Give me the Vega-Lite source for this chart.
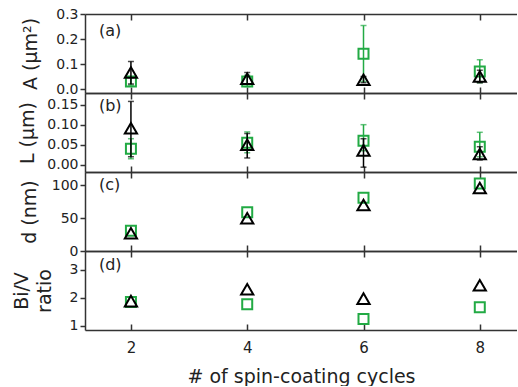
{
  "$schema": "https://vega.github.io/schema/vega-lite/v6.json",
  "padding": {"left": 12, "top": 7, "right": 0, "bottom": 0},
  "spacing": 0,
  "bounds": "flush",
  "config": {
    "font": "DejaVu Sans",
    "view": {"stroke": null},
    "text": {"font": "DejaVu Sans"},
    "axis": {"grid": false, "labelFontSize": 14, "titleFontSize": 19, "titleFontWeight": "normal", "domainColor": "#333", "tickColor": "#333", "labelColor": "#222", "titleColor": "#222", "domainWidth": 1.5, "tickWidth": 1.5}
  },
  "datasets": {
    "pts": [
      {"panel": "a", "cycles": 2, "series": "sq", "value": 0.03, "lo": 0.015, "hi": 0.045},
      {"panel": "a", "cycles": 4, "series": "sq", "value": 0.03, "lo": 0.01, "hi": 0.055},
      {"panel": "a", "cycles": 6, "series": "sq", "value": 0.141, "lo": 0.03, "hi": 0.254},
      {"panel": "a", "cycles": 8, "series": "sq", "value": 0.07, "lo": 0.025, "hi": 0.117},
      {"panel": "a", "cycles": 2, "series": "tri", "value": 0.066, "lo": 0.02, "hi": 0.11},
      {"panel": "a", "cycles": 4, "series": "tri", "value": 0.041, "lo": 0.02, "hi": 0.066},
      {"panel": "a", "cycles": 6, "series": "tri", "value": 0.037, "lo": 0.025, "hi": 0.05},
      {"panel": "a", "cycles": 8, "series": "tri", "value": 0.05, "lo": 0.025, "hi": 0.075},
      {"panel": "b", "cycles": 2, "series": "sq", "value": 0.04, "lo": 0.015, "hi": 0.065},
      {"panel": "b", "cycles": 4, "series": "sq", "value": 0.055, "lo": 0.03, "hi": 0.082},
      {"panel": "b", "cycles": 6, "series": "sq", "value": 0.06, "lo": 0.035, "hi": 0.1},
      {"panel": "b", "cycles": 8, "series": "sq", "value": 0.045, "lo": 0.02, "hi": 0.081},
      {"panel": "b", "cycles": 2, "series": "tri", "value": 0.091, "lo": 0.02, "hi": 0.158},
      {"panel": "b", "cycles": 4, "series": "tri", "value": 0.05, "lo": 0.017, "hi": 0.078},
      {"panel": "b", "cycles": 6, "series": "tri", "value": 0.036, "lo": -0.006, "hi": 0.065},
      {"panel": "b", "cycles": 8, "series": "tri", "value": 0.027, "lo": 0.012, "hi": 0.045},
      {"panel": "c", "cycles": 2, "series": "sq", "value": 31},
      {"panel": "c", "cycles": 4, "series": "sq", "value": 59},
      {"panel": "c", "cycles": 6, "series": "sq", "value": 81},
      {"panel": "c", "cycles": 8, "series": "sq", "value": 103},
      {"panel": "c", "cycles": 2, "series": "tri", "value": 27},
      {"panel": "c", "cycles": 4, "series": "tri", "value": 50},
      {"panel": "c", "cycles": 6, "series": "tri", "value": 70},
      {"panel": "c", "cycles": 8, "series": "tri", "value": 96},
      {"panel": "d", "cycles": 2, "series": "sq", "value": 1.85},
      {"panel": "d", "cycles": 4, "series": "sq", "value": 1.77},
      {"panel": "d", "cycles": 6, "series": "sq", "value": 1.24},
      {"panel": "d", "cycles": 8, "series": "sq", "value": 1.66},
      {"panel": "d", "cycles": 2, "series": "tri", "value": 1.88},
      {"panel": "d", "cycles": 4, "series": "tri", "value": 2.31},
      {"panel": "d", "cycles": 6, "series": "tri", "value": 1.97},
      {"panel": "d", "cycles": 8, "series": "tri", "value": 2.45}
    ],
    "labels": [
      {"panel": "a", "label": "(a)"},
      {"panel": "b", "label": "(b)"},
      {"panel": "c", "label": "(c)"},
      {"panel": "d", "label": "(d)"}
    ]
  },
  "vconcat": [
    {
      "width": 432, "height": 79,
      "layer": [
        {"data": {"name": "pts"}, "transform": [{"filter": "datum.panel === 'a' && datum.series === 'sq'"}], "mark": {"type": "errorbar", "ticks": true, "color": "#22aa44", "thickness": 1.5, "size": 6},
         "encoding": {"x": {"field": "cycles", "type": "quantitative", "scale": {"domain": [1.21, 8.64], "nice": false, "zero": false}, "axis": null},
           "y": {"field": "lo", "type": "quantitative", "scale": {"domain": [-0.016, 0.3], "nice": false, "zero": false}, "axis": {"values": [0, 0.1, 0.2, 0.3], "format": ".1f", "tickSize": 5, "labelPadding": 2, "title": "A (μm²)", "titlePadding": 15}}, "y2": {"field": "hi"}}},
        {"data": {"name": "pts"}, "transform": [{"filter": "datum.panel === 'a' && datum.series === 'sq'"}], "mark": {"type": "point", "shape": "square", "color": "#22aa44", "strokeWidth": 2, "size": 100, "opacity": 1},
         "encoding": {"x": {"field": "cycles", "type": "quantitative", "axis": {"orient": "bottom", "values": [2, 4, 6, 8], "labels": false, "tickSize": -6, "title": null}},
           "y": {"field": "value", "type": "quantitative", "axis": {"values": [0, 0.1, 0.2, 0.3], "format": ".1f", "tickSize": 5, "labelPadding": 2, "title": "A (μm²)", "titlePadding": 15}}}},
        {"data": {"name": "pts"}, "transform": [{"filter": "datum.panel === 'a' && datum.series === 'tri'"}], "mark": {"type": "errorbar", "ticks": true, "color": "#000000", "thickness": 1.5, "size": 6},
         "encoding": {"x": {"field": "cycles", "type": "quantitative", "axis": null}, "y": {"field": "lo", "type": "quantitative", "axis": {"values": [0, 0.1, 0.2, 0.3], "format": ".1f", "tickSize": 5, "labelPadding": 2, "title": "A (μm²)", "titlePadding": 15}}, "y2": {"field": "hi"}}},
        {"data": {"name": "pts"}, "transform": [{"filter": "datum.panel === 'a' && datum.series === 'tri'"}], "mark": {"type": "point", "shape": "triangle-up", "color": "#000000", "strokeWidth": 2, "size": 150, "opacity": 1},
         "encoding": {"x": {"field": "cycles", "type": "quantitative", "axis": null}, "y": {"field": "value", "type": "quantitative", "axis": {"values": [0, 0.1, 0.2, 0.3], "format": ".1f", "tickSize": 5, "labelPadding": 2, "title": "A (μm²)", "titlePadding": 15}}}},
        {"data": {"name": "labels"}, "transform": [{"filter": "datum.panel === 'a'"}], "mark": {"type": "text", "align": "left", "baseline": "middle", "fontSize": 16, "color": "#222"},
         "encoding": {"text": {"field": "label"}, "x": {"datum": 1.45, "type": "quantitative", "axis": {"orient": "top", "values": [2, 4, 6, 8], "labels": false, "tickSize": -6, "title": null}}, "y": {"datum": 0.232, "type": "quantitative", "axis": {"values": [0, 0.1, 0.2, 0.3], "format": ".1f", "tickSize": 5, "labelPadding": 2, "title": "A (μm²)", "titlePadding": 15}}}}
      ]
    },
    {
      "width": 432, "height": 79,
      "layer": [
        {"data": {"name": "pts"}, "transform": [{"filter": "datum.panel === 'b' && datum.series === 'sq'"}], "mark": {"type": "errorbar", "ticks": true, "color": "#22aa44", "thickness": 1.5, "size": 6},
         "encoding": {"x": {"field": "cycles", "type": "quantitative", "scale": {"domain": [1.21, 8.64], "nice": false, "zero": false}, "axis": null},
           "y": {"field": "lo", "type": "quantitative", "scale": {"domain": [-0.018, 0.179], "nice": false, "zero": false}, "axis": {"values": [0, 0.05, 0.1, 0.15], "format": ".2f", "tickSize": 5, "labelPadding": 2, "title": "L (μm)", "titlePadding": 9}}, "y2": {"field": "hi"}}},
        {"data": {"name": "pts"}, "transform": [{"filter": "datum.panel === 'b' && datum.series === 'sq'"}], "mark": {"type": "point", "shape": "square", "color": "#22aa44", "strokeWidth": 2, "size": 100, "opacity": 1},
         "encoding": {"x": {"field": "cycles", "type": "quantitative", "axis": {"orient": "bottom", "values": [2, 4, 6, 8], "labels": false, "tickSize": -6, "title": null}},
           "y": {"field": "value", "type": "quantitative", "axis": {"values": [0, 0.05, 0.1, 0.15], "format": ".2f", "tickSize": 5, "labelPadding": 2, "title": "L (μm)", "titlePadding": 9}}}},
        {"data": {"name": "pts"}, "transform": [{"filter": "datum.panel === 'b' && datum.series === 'tri'"}], "mark": {"type": "errorbar", "ticks": true, "color": "#000000", "thickness": 1.5, "size": 6},
         "encoding": {"x": {"field": "cycles", "type": "quantitative", "axis": null}, "y": {"field": "lo", "type": "quantitative", "axis": {"values": [0, 0.05, 0.1, 0.15], "format": ".2f", "tickSize": 5, "labelPadding": 2, "title": "L (μm)", "titlePadding": 9}}, "y2": {"field": "hi"}}},
        {"data": {"name": "pts"}, "transform": [{"filter": "datum.panel === 'b' && datum.series === 'tri'"}], "mark": {"type": "point", "shape": "triangle-up", "color": "#000000", "strokeWidth": 2, "size": 150, "opacity": 1},
         "encoding": {"x": {"field": "cycles", "type": "quantitative", "axis": null}, "y": {"field": "value", "type": "quantitative", "axis": {"values": [0, 0.05, 0.1, 0.15], "format": ".2f", "tickSize": 5, "labelPadding": 2, "title": "L (μm)", "titlePadding": 9}}}},
        {"data": {"name": "labels"}, "transform": [{"filter": "datum.panel === 'b'"}], "mark": {"type": "text", "align": "left", "baseline": "middle", "fontSize": 16, "color": "#222"},
         "encoding": {"text": {"field": "label"}, "x": {"datum": 1.45, "type": "quantitative", "axis": {"orient": "top", "values": [2, 4, 6, 8], "labels": false, "tickSize": -6, "title": null}}, "y": {"datum": 0.147, "type": "quantitative", "axis": {"values": [0, 0.05, 0.1, 0.15], "format": ".2f", "tickSize": 5, "labelPadding": 2, "title": "L (μm)", "titlePadding": 9}}}}
      ]
    },
    {
      "width": 432, "height": 79,
      "layer": [
        {"data": {"name": "pts"}, "transform": [{"filter": "datum.panel === 'c' && datum.series === 'sq'"}], "mark": {"type": "point", "shape": "square", "color": "#22aa44", "strokeWidth": 2, "size": 100, "opacity": 1},
         "encoding": {"x": {"field": "cycles", "type": "quantitative", "scale": {"domain": [1.21, 8.64], "nice": false, "zero": false}, "axis": {"orient": "bottom", "values": [2, 4, 6, 8], "labels": false, "tickSize": -6, "title": null}},
           "y": {"field": "value", "type": "quantitative", "scale": {"domain": [0, 120.4], "nice": false, "zero": false}, "axis": {"values": [0, 50, 100], "tickSize": 5, "labelPadding": 2, "title": "d (nm)", "titlePadding": 12}}}},
        {"data": {"name": "pts"}, "transform": [{"filter": "datum.panel === 'c' && datum.series === 'tri'"}], "mark": {"type": "point", "shape": "triangle-up", "color": "#000000", "strokeWidth": 2, "size": 150, "opacity": 1},
         "encoding": {"x": {"field": "cycles", "type": "quantitative", "axis": null}, "y": {"field": "value", "type": "quantitative", "axis": {"values": [0, 50, 100], "tickSize": 5, "labelPadding": 2, "title": "d (nm)", "titlePadding": 12}}}},
        {"data": {"name": "labels"}, "transform": [{"filter": "datum.panel === 'c'"}], "mark": {"type": "text", "align": "left", "baseline": "middle", "fontSize": 16, "color": "#222"},
         "encoding": {"text": {"field": "label"}, "x": {"datum": 1.45, "type": "quantitative", "axis": {"orient": "top", "values": [2, 4, 6, 8], "labels": false, "tickSize": -6, "title": null}}, "y": {"datum": 100, "type": "quantitative", "axis": {"values": [0, 50, 100], "tickSize": 5, "labelPadding": 2, "title": "d (nm)", "titlePadding": 12}}}}
      ]
    },
    {
      "width": 432, "height": 79,
      "layer": [
        {"data": {"name": "pts"}, "transform": [{"filter": "datum.panel === 'd' && datum.series === 'sq'"}], "mark": {"type": "point", "shape": "square", "color": "#22aa44", "strokeWidth": 2, "size": 100, "opacity": 1},
         "encoding": {"x": {"field": "cycles", "type": "quantitative", "scale": {"domain": [1.21, 8.64], "nice": false, "zero": false}, "axis": {"orient": "bottom", "values": [2, 4, 6, 8], "tickSize": -6, "labelPadding": 16, "labelFontSize": 15, "title": "# of spin-coating cycles", "titlePadding": 12}},
           "y": {"field": "value", "type": "quantitative", "scale": {"domain": [0.846, 3.68], "nice": false, "zero": false}, "axis": {"values": [1, 2, 3], "tickSize": 5, "labelPadding": 2, "title": ["Bi/V", "ratio"], "titleLineHeight": 23, "titlePadding": 15}}}},
        {"data": {"name": "pts"}, "transform": [{"filter": "datum.panel === 'd' && datum.series === 'tri'"}], "mark": {"type": "point", "shape": "triangle-up", "color": "#000000", "strokeWidth": 2, "size": 150, "opacity": 1},
         "encoding": {"x": {"field": "cycles", "type": "quantitative", "axis": null}, "y": {"field": "value", "type": "quantitative", "axis": {"values": [1, 2, 3], "tickSize": 5, "labelPadding": 2, "title": ["Bi/V", "ratio"], "titleLineHeight": 23, "titlePadding": 15}}}},
        {"data": {"name": "labels"}, "transform": [{"filter": "datum.panel === 'd'"}], "mark": {"type": "text", "align": "left", "baseline": "middle", "fontSize": 16, "color": "#222"},
         "encoding": {"text": {"field": "label"}, "x": {"datum": 1.45, "type": "quantitative", "axis": {"orient": "top", "values": [2, 4, 6, 8], "labels": false, "tickSize": -6, "title": null}}, "y": {"datum": 3.17, "type": "quantitative", "axis": {"values": [1, 2, 3], "tickSize": 5, "labelPadding": 2, "title": ["Bi/V", "ratio"], "titleLineHeight": 23, "titlePadding": 15}}}}
      ]
    }
  ]
}
